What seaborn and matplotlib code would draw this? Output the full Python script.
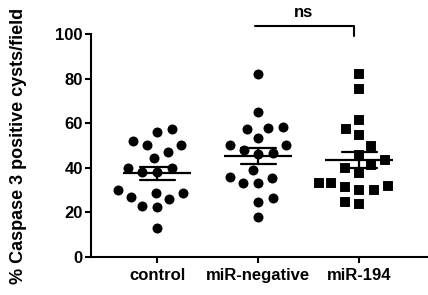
import numpy as np
import pandas as pd
import matplotlib
matplotlib.use("Agg")
import matplotlib.pyplot as plt
import seaborn as sns

# group names on the x axis
groups = ["control", "miR-negative", "miR-194"]

# values (% caspase 3 positive cysts per field)
control_vals = [56.2, 57.3, 50.2, 50.2, 52.2, 46.9, 44.5, 40.0, 40.0, 38.3,
                38.3, 30.0, 28.8, 28.8, 27.0, 26.0, 22.3, 22.9, 13.1]
neg_vals = [81.9, 64.9, 57.3, 58.4, 58.0, 53.2, 50.2, 50.2, 48.0, 46.2,
            46.8, 39.0, 35.3, 36.0, 33.0, 33.0, 24.8, 26.3, 18.1]
mir194_vals = [81.9, 75.2, 61.4, 57.3, 54.7, 49.8, 45.7, 43.5, 41.3, 39.8,
               37.5, 33.3, 30.0, 31.8, 30.0, 31.3, 33.3, 23.6, 24.8]

ylabel = "% Caspase 3 positive cysts/field"
yticks = [0, 20, 40, 60, 80, 100]
sig_text = "ns"

# long-form table
df = pd.DataFrame({
    "group": (["control"] * len(control_vals) + ["miR-negative"] * len(neg_vals)
              + ["miR-194"] * len(mir194_vals)),
    "value": control_vals + neg_vals + mir194_vals,
})

sns.set_style("ticks")
plt.rcParams["font.family"] = ["Liberation Sans", "DejaVu Sans"]
plt.rcParams["font.weight"] = "bold"
# everything pure black like the Prism original
for k in ["text.color", "axes.labelcolor", "xtick.color", "ytick.color", "axes.edgecolor"]:
    plt.rcParams[k] = "black"

fig = plt.figure(figsize=(4.28, 2.95), dpi=100)
ax = fig.add_axes([0.2126, 0.1288, 0.7874, 0.7559])

# circles for the first two groups, squares for miR-194
# (white edge keeps some gap between the dots like in Prism)
sns.swarmplot(data=df[df["group"] != "miR-194"], x="group", y="value", order=groups,
              color="black", marker="o", size=8.7, edgecolor="white", linewidth=1.5, ax=ax)
sns.swarmplot(data=df[df["group"] == "miR-194"], x="group", y="value", order=groups,
              color="black", marker="s", size=8.7, edgecolor="white", linewidth=1.5, ax=ax)

# mean line + SEM whiskers, on top of the dots
sns.pointplot(data=df, x="group", y="value", order=groups, errorbar="se",
              capsize=0.35, color="black", markers="_", linestyles="none",
              markersize=49, markeredgewidth=1.6, zorder=10,
              err_kws={"linewidth": 1.6, "zorder": 10}, ax=ax)

ax.set_xlim(-0.656, 2.68)
ax.set_ylim(0, 100)
ax.set_yticks(yticks)
ax.set_xlabel("")
ax.set_ylabel(ylabel, fontsize=13, fontweight="bold")
ax.yaxis.set_label_coords(-0.19, 0.5)

for s in ["top", "right"]:
    ax.spines[s].set_visible(False)
for s in ["left", "bottom"]:
    ax.spines[s].set_linewidth(1.5)
ax.tick_params(axis="both", width=1.5, length=4, labelsize=12, pad=2, colors="black")
ax.tick_params(axis="x", pad=4)
for lbl in ax.get_xticklabels() + ax.get_yticklabels():
    lbl.set_fontweight("bold")

# significance bracket between miR-negative and miR-194
ax.plot([0.97, 1.95, 1.95], [103.6, 103.6, 99], color="black", lw=1.5, clip_on=False)
ax.text(1.45, 106.5, sig_text, ha="center", va="bottom", fontsize=12, fontweight="bold")

plt.savefig("out.png", dpi=100)
